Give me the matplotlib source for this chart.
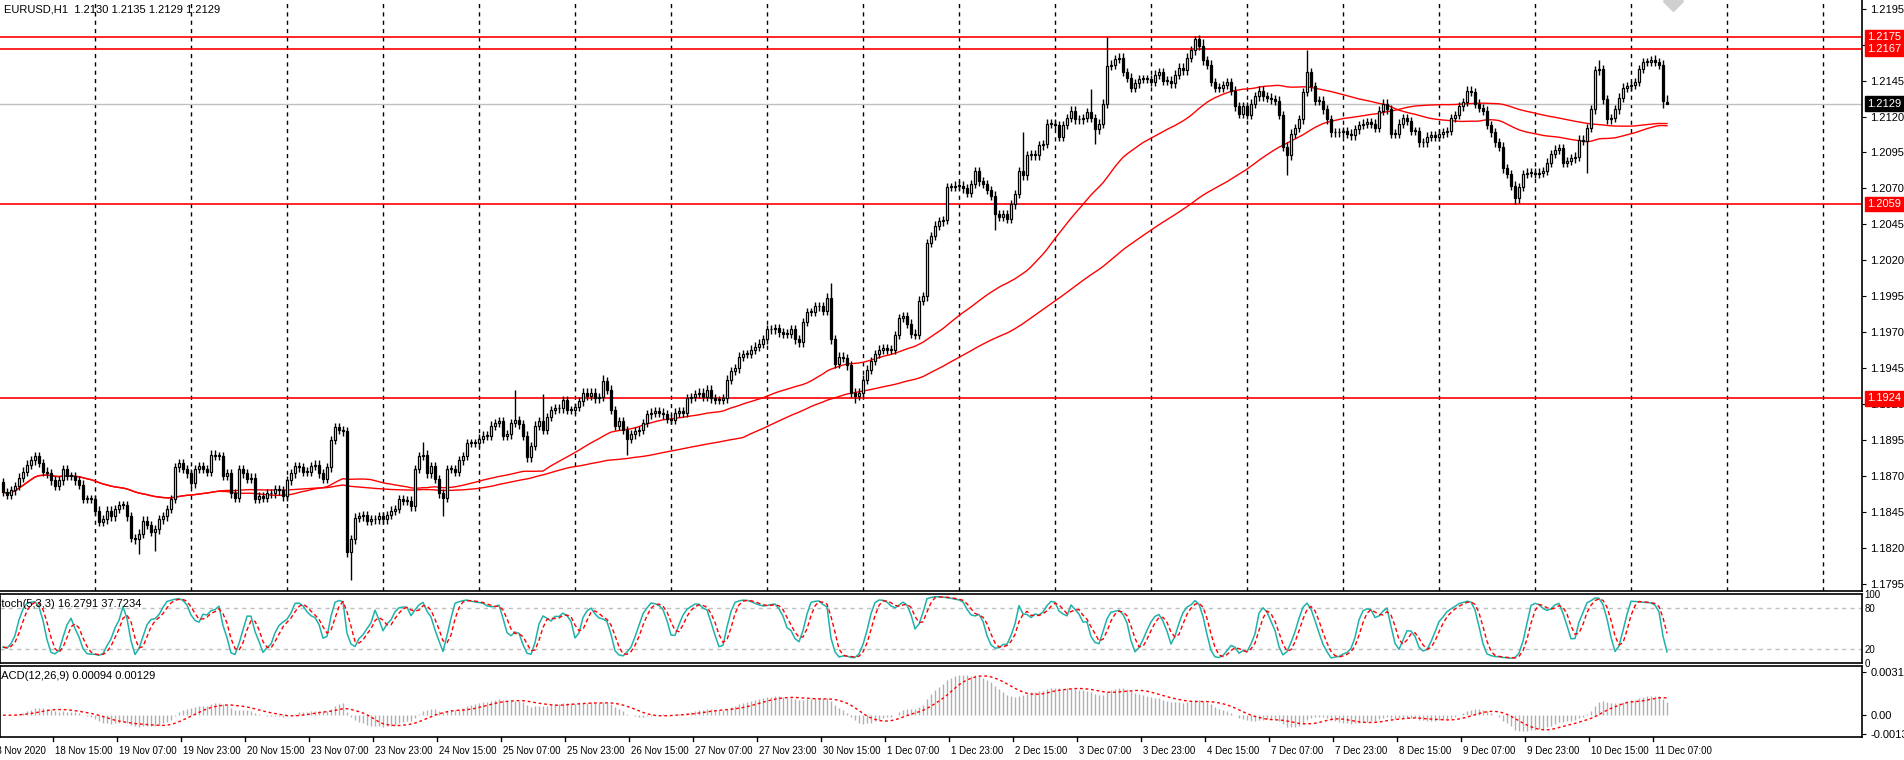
import numpy as np
import pandas as pd
import matplotlib
matplotlib.use("Agg")
import matplotlib.pyplot as plt

plt.rcParams["font.family"] = "Liberation Sans"

# EURUSD H1 closes, bar by bar
closes = [
    1.1859, 1.1857, 1.1860, 1.1863, 1.1869, 1.1873, 1.1878, 1.1881, 1.1884, 1.1879,
    1.1873, 1.1872, 1.1867, 1.1863, 1.1867, 1.1875, 1.1870, 1.1870, 1.1867, 1.1864,
    1.1854, 1.1854, 1.1854, 1.1846, 1.1838, 1.1840, 1.1846, 1.1842, 1.1847, 1.1850,
    1.1850, 1.1842, 1.1827, 1.1826, 1.1830, 1.1839, 1.1836, 1.1831, 1.1833, 1.1840,
    1.1842, 1.1847, 1.1854, 1.1876, 1.1879, 1.1875, 1.1872, 1.1865, 1.1875, 1.1877,
    1.1875, 1.1873, 1.1885, 1.1884, 1.1884, 1.1870, 1.1872, 1.1858, 1.1855, 1.1875,
    1.1872, 1.1868, 1.1869, 1.1854, 1.1856, 1.1855, 1.1858, 1.1858, 1.1861, 1.1860,
    1.1856, 1.1867, 1.1872, 1.1877, 1.1876, 1.1873, 1.1873, 1.1877, 1.1878, 1.1872,
    1.1868, 1.1876, 1.1895, 1.1904, 1.1902, 1.1901, 1.1817, 1.1826, 1.1841, 1.1842,
    1.1843, 1.1839, 1.1840, 1.1840, 1.1842, 1.1840, 1.1843, 1.1846, 1.1847, 1.1854,
    1.1853, 1.1853, 1.1849, 1.1875, 1.1884, 1.1885, 1.1872, 1.1877, 1.1868, 1.1858,
    1.1855, 1.1875, 1.1875, 1.1873, 1.1881, 1.1884, 1.1893, 1.1893, 1.1893, 1.1896,
    1.1898, 1.1898, 1.1905, 1.1907, 1.1908, 1.1898, 1.1899, 1.1907, 1.1909, 1.1906,
    1.1898, 1.1883, 1.1891, 1.1905, 1.1908, 1.1902, 1.1911, 1.1916, 1.1917, 1.1917,
    1.1923, 1.1916, 1.1916, 1.1918, 1.1922, 1.1928, 1.1926, 1.1928, 1.1924, 1.1925,
    1.1936, 1.1930, 1.1916, 1.1905, 1.1908, 1.1902, 1.1896, 1.1899, 1.1901, 1.1902,
    1.1907, 1.1913, 1.1914, 1.1915, 1.1914, 1.1913, 1.1910, 1.1909, 1.1914, 1.1915,
    1.1914, 1.1924, 1.1925, 1.1927, 1.1928, 1.1925, 1.1930, 1.1924, 1.1923, 1.1923,
    1.1924, 1.1937, 1.1943, 1.1945, 1.1953, 1.1955, 1.1955, 1.1958, 1.1960, 1.1962,
    1.1965, 1.1972, 1.1972, 1.1973, 1.1970, 1.1969, 1.1969, 1.1972, 1.1965, 1.1963,
    1.1977, 1.1984, 1.1984, 1.1988, 1.1988, 1.1985, 1.1994, 1.1965, 1.1948, 1.1953,
    1.1952, 1.1947, 1.1928, 1.1926, 1.1928, 1.1937, 1.1944, 1.1950, 1.1955, 1.1958,
    1.1959, 1.1958, 1.1958, 1.1968, 1.1980, 1.1981, 1.1976, 1.1969, 1.1968, 1.1992,
    1.1995, 1.2032, 1.2037, 1.2044, 1.2047, 1.2048, 1.2071, 1.2071, 1.2072, 1.2072,
    1.2070, 1.2067, 1.2073, 1.2082, 1.2075, 1.2073, 1.2069, 1.2065, 1.2052, 1.2050,
    1.2052, 1.2049, 1.2059, 1.2066, 1.2082, 1.2079, 1.2093, 1.2094, 1.2093, 1.2100,
    1.2101, 1.2115, 1.2115, 1.2114, 1.2106, 1.2114, 1.2119, 1.2124, 1.2118, 1.2118,
    1.2119, 1.2123, 1.2119, 1.2111, 1.2115, 1.2129, 1.2155, 1.2156, 1.2160, 1.2161,
    1.2151, 1.2147, 1.2140, 1.2143, 1.2146, 1.2146, 1.2146, 1.2144, 1.2149, 1.2151,
    1.2145, 1.2145, 1.2143, 1.2149, 1.2154, 1.2152, 1.2161, 1.2166, 1.2174, 1.2169,
    1.2159, 1.2156, 1.2144, 1.2140, 1.2140, 1.2142, 1.2144, 1.2138, 1.2127, 1.2122,
    1.2127, 1.2121, 1.2129, 1.2134, 1.2138, 1.2134, 1.2133, 1.2132, 1.2131, 1.2121,
    1.2099, 1.2093, 1.2108, 1.2112, 1.2118, 1.2137, 1.2151, 1.2141, 1.2131, 1.2131,
    1.2125, 1.2118, 1.2109, 1.2109, 1.2109, 1.2110, 1.2108, 1.2107, 1.2111, 1.2114,
    1.2115, 1.2116, 1.2115, 1.2112, 1.2124, 1.2129, 1.2125, 1.2108, 1.2108, 1.2115,
    1.2119, 1.2117, 1.2110, 1.2110, 1.2102, 1.2102, 1.2106, 1.2107, 1.2106, 1.2108,
    1.2109, 1.2110, 1.2119, 1.2121, 1.2127, 1.2130, 1.2138, 1.2137, 1.2129, 1.2126,
    1.2124, 1.2114, 1.2109, 1.2102, 1.2099, 1.2084, 1.2080, 1.2072, 1.2063, 1.2071,
    1.2080, 1.2081, 1.2081, 1.2080, 1.2081, 1.2082, 1.2088, 1.2094, 1.2097, 1.2098,
    1.2088, 1.2089, 1.2091, 1.2092, 1.2104, 1.2103, 1.2112, 1.2125, 1.2152, 1.2153,
    1.2132, 1.2118, 1.2119, 1.2125, 1.2133, 1.2140, 1.2141, 1.2142, 1.2144, 1.2153,
    1.2158, 1.2158, 1.2159, 1.2158, 1.2156, 1.2131, 1.2129,
]
first_open = 1.1866
last_open = 1.2130

# notable wick extremes {bar: price}
wick_highs = {83: 1.1907, 105: 1.1894, 128: 1.1930, 135: 1.1927, 150: 1.1940,
              207: 1.2004, 255: 1.2109, 272: 1.2139, 276: 1.2175, 298: 1.2176,
              300: 1.2174, 326: 1.2166, 399: 1.2159, 413: 1.2163, 416: 1.2135}
wick_lows = {34: 1.1816, 38: 1.1818, 87: 1.1798, 110: 1.1842, 156: 1.1885,
             213: 1.1921, 248: 1.2041, 273: 1.2101, 321: 1.2079, 378: 1.2059,
             396: 1.2081, 415: 1.2126, 416: 1.2129}

levels = [1.2175, 1.2167, 1.2059, 1.1924]
last_price = 1.2129
price_ticks = [1.1795, 1.1820, 1.1845, 1.1870, 1.1895, 1.1920, 1.1945, 1.1970,
               1.1995, 1.2020, 1.2045, 1.2070, 1.2095, 1.2120, 1.2145, 1.2170, 1.2195]
time_labels = ["18 Nov 2020", "18 Nov 15:00", "19 Nov 07:00", "19 Nov 23:00", "20 Nov 15:00",
               "23 Nov 07:00", "23 Nov 23:00", "24 Nov 15:00", "25 Nov 07:00", "25 Nov 23:00",
               "26 Nov 15:00", "27 Nov 07:00", "27 Nov 23:00", "30 Nov 15:00", "1 Dec 07:00",
               "1 Dec 23:00", "2 Dec 15:00", "3 Dec 07:00", "3 Dec 23:00", "4 Dec 15:00",
               "7 Dec 07:00", "7 Dec 23:00", "8 Dec 15:00", "9 Dec 07:00", "9 Dec 23:00",
               "10 Dec 15:00", "11 Dec 07:00"]

# ---- build OHLC ----
c = np.array(closes)
n = len(c)
o = np.concatenate([[first_open], c[:-1]])
o[-1] = last_open
h = np.maximum(o, c) + 0.0003
l = np.minimum(o, c) - 0.0003
for k, v in wick_highs.items():
    h[k] = v
for k, v in wick_lows.items():
    l[k] = v
idx = np.arange(n)

s = pd.Series(c)
ma_fast = s.rolling(50, min_periods=1).mean()
ma_slow = s.rolling(100, min_periods=1).mean()

# stochastic 5,3,3
hh = pd.Series(h).rolling(5, min_periods=1).max()
ll = pd.Series(l).rolling(5, min_periods=1).min()
num = (s - ll).rolling(3, min_periods=1).sum()
den = (hh - ll).rolling(3, min_periods=1).sum()
stoch_k = 100 * num / den
stoch_d = stoch_k.rolling(3, min_periods=1).mean()

# MACD 12,26,9
macd = s.ewm(span=12, adjust=False).mean() - s.ewm(span=26, adjust=False).mean()
signal = macd.rolling(9, min_periods=1).mean()

# ---- layout ----
W, H = 1904, 760
fig = plt.figure(figsize=(W / 100, H / 100), dpi=100)
axr = 1862 / W
xlim = (-0.75, 464.75)
fs = 8

def px_axes(top, bottom):
    return fig.add_axes([0, 1 - bottom / H, axr, (bottom - top) / H])

ax = px_axes(0, 591)
ax_st = px_axes(594, 663)
ax_md = px_axes(666, 737)

for a in (ax, ax_st, ax_md):
    a.set_xlim(*xlim)
    a.set_xticks([])
    a.yaxis.tick_right()
    a.tick_params(axis="y", labelsize=fs, length=3, pad=3)
    for sp in a.spines.values():
        sp.set_linewidth(1.2)
ax.spines["top"].set_visible(False)
ax.spines["left"].set_visible(False)

# main panel
ax.set_ylim(1.17901, 1.2201)
ax.set_yticks(price_ticks)
ax.set_yticklabels([f"{t:.4f}" for t in price_ticks])
for g in range(23, 465, 24):
    ax.axvline(g, color="black", lw=1, ls=(0, (3, 3)), zorder=1)
ax.axhline(last_price, color="#c0c0c0", lw=1, zorder=1)
for lv in levels:
    ax.axhline(lv, color="red", lw=1.2, zorder=2)
    ax.text(1.003, lv, f"{lv:.4f}", transform=ax.get_yaxis_transform(), fontsize=fs,
            color="white", va="center", ha="left", clip_on=False, zorder=5,
            bbox=dict(boxstyle="square,pad=0.2", fc="red", ec="red"))
ax.text(1.003, last_price, f"{last_price:.4f}", transform=ax.get_yaxis_transform(),
        fontsize=fs, color="white", va="center", ha="left", clip_on=False, zorder=5,
        bbox=dict(boxstyle="square,pad=0.2", fc="black", ec="black"))

ax.plot(idx, ma_fast, color="red", lw=1, zorder=3)
ax.plot(idx, ma_slow, color="red", lw=1, zorder=3)

up = c >= o
ax.vlines(idx, l, h, color="black", lw=1, zorder=4)
body_b = np.minimum(o, c)
body_h = np.maximum(np.abs(c - o), 0.00005)
ax.bar(idx[up], body_h[up], bottom=body_b[up], width=0.6, color="white",
       edgecolor="black", lw=0.9, zorder=5)
ax.bar(idx[~up], body_h[~up], bottom=body_b[~up], width=0.6, color="black",
       edgecolor="black", lw=0.9, zorder=5)

ax.plot([(1673 - 3) / 4], [1.2200], marker="D", ms=10, color="#d0d0d0",
        zorder=2, clip_on=True)
ax.text(4 / 1862, 1 - 4 / 591, "EURUSD,H1  1.2130 1.2135 1.2129 1.2129",
        transform=ax.transAxes, fontsize=fs, va="top", ha="left")

# stochastic panel
ax_st.set_ylim(0, 100)
ax_st.set_yticks([0, 20, 80, 100])
ax_st.set_yticklabels(["0", "20", "80", "100"], fontsize=7)
ax_st.tick_params(axis="y", length=0, pad=2)
for lv in (20, 80):
    ax_st.axhline(lv, color="#c0c0c0", lw=1, ls=(0, (3, 3)))
ax_st.plot(idx, stoch_k, color="#20b2aa", lw=1.1)
ax_st.plot(idx, stoch_d, color="red", lw=1, ls=(0, (3, 2)))
ax_st.text(-6 / 1862, 0.93, "Stoch(5,3,3) 16.2791 37.7234", transform=ax_st.transAxes,
           fontsize=fs, va="top", ha="left")

# MACD panel
ax_md.set_ylim(-0.0016, 0.0036)
ax_md.set_yticks([-0.00138, 0.0, 0.00316])
ax_md.set_yticklabels(["-0.00138", "0.00", "0.00316"])
ax_md.vlines(idx, 0, macd, color="#b0b0b0", lw=1)
ax_md.plot(idx, signal, color="red", lw=1, ls=(0, (2, 2)))
ax_md.text(-8 / 1862, 0.93, "MACD(12,26,9) 0.00094 0.00129", transform=ax_md.transAxes,
           fontsize=fs, va="top", ha="left")

# time axis labels
for k, lab in enumerate(time_labels):
    xb = -3.5 + 16 * k
    ax_md.text(xb + 0.5, -0.12, lab, transform=ax_md.get_xaxis_transform(), fontsize=7,
               va="top", ha="left", clip_on=False)
    ax_md.plot([xb, xb], [0, -0.05], transform=ax_md.get_xaxis_transform(),
               color="black", lw=1, clip_on=False)

fig.savefig("out.png", dpi=100)
